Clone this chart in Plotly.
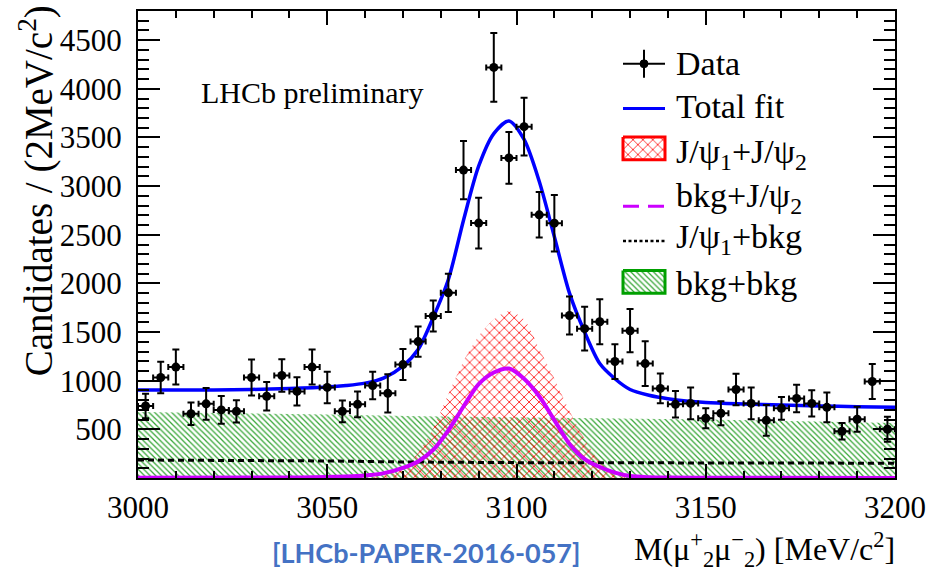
import plotly.graph_objects as go

# ---------------- data ----------------
bin_centers = [3002, 3006, 3010, 3014, 3018, 3022, 3026, 3030, 3034, 3038,
               3042, 3046, 3050, 3054, 3058, 3062, 3066, 3070, 3074, 3078,
               3082, 3086, 3090, 3094, 3098, 3102, 3106, 3110, 3114, 3118,
               3122, 3126, 3130, 3134, 3138, 3142, 3146, 3150, 3154, 3158,
               3162, 3166, 3170, 3174, 3178, 3182, 3186, 3190, 3194, 3198]
candidates = [740, 1033, 1140, 660, 762, 700, 685, 1033, 840, 1054,
              890, 1140, 931, 685, 757, 951, 870, 1166, 1402, 1665,
              1903, 3165, 2620, 4220, 3290, 3611, 2705, 2619, 1670, 1535,
              1606, 1197, 1514, 1176, 921, 757, 767, 614, 665, 910,
              767, 593, 716, 818, 767, 726, 481, 604, 992, 501]
cand_err = [125, 162, 180, 115, 162, 142, 115, 184, 147, 167,
            145, 180, 162, 111, 133, 142, 196, 159, 155, 160,
            196, 300, 260, 354, 266, 297, 234, 290, 196, 225,
            230, 179, 222, 230, 153, 136, 162, 102, 123, 162,
            162, 158, 116, 141, 136, 153, 85, 128, 179, 128]
bin_half_width = [2] * len(bin_centers)

fit_mass = [3000, 3010, 3020, 3030, 3040, 3050, 3055, 3060, 3065, 3070, 3074,
            3078, 3082, 3086, 3090, 3094, 3098, 3102, 3106, 3110, 3114, 3118,
            3122, 3126, 3130, 3135, 3140, 3150, 3160, 3170, 3180, 3190, 3200]
total_fit = [905, 905, 905, 910, 920, 935, 950, 975, 1030, 1150, 1320,
             1650, 2040, 2650, 3205, 3540, 3670, 3480, 3050, 2480, 1900, 1500,
             1176, 1020, 910, 850, 815, 775, 760, 750, 740, 733, 726]

bkg_psi2_mass = [3000, 3040, 3050, 3055, 3060, 3065, 3070, 3074, 3078, 3082, 3086,
                 3090, 3094, 3098, 3102, 3106, 3110, 3114, 3118, 3122, 3126,
                 3130, 3135, 3140, 3150, 3200]
bkg_psi2 = [2, 5, 10, 15, 25, 50, 105, 170, 290, 490, 735,
            965, 1085, 1125, 1020, 840, 595, 350, 195, 113, 55,
            20, 8, 4, 2, 0]

psi_psi_mass = [3060, 3065, 3070, 3074, 3078, 3082, 3086, 3090, 3094, 3098,
                3102, 3106, 3110, 3114, 3118, 3122, 3126, 3132]
psi_psi = [0, 25, 90, 260, 510, 860, 1200, 1460, 1630, 1715,
           1630, 1330, 1020, 690, 400, 165, 35, 0]

psi1_bkg_mass = [3000, 3030, 3050, 3070, 3100, 3150, 3200]
psi1_bkg = [185, 182, 175, 165, 158, 155, 152]

bkg_bkg_mass = [3000, 3025, 3050, 3075, 3100, 3125, 3150, 3175, 3200]
bkg_bkg = [678, 668, 652, 635, 625, 614, 602, 584, 565]

x_range = [3000, 3200]
y_range = [0, 4800]

legend_labels = ["Data", "Total fit", "J/ψ<sub>1</sub>+J/ψ<sub>2</sub>",
                 "bkg+J/ψ<sub>2</sub>", "J/ψ<sub>1</sub>+bkg", "bkg+bkg"]

# ---------------- styling / layout constants ----------------
W, H = 936, 574
L, R, T, B = 138, 41, 9, 96
PW, PH = W - L - R, H - T - B
SERIF = "Liberation Serif"
RED, GREEN, MAGENTA, BLUE = "#ff0000", "#00a000", "#cc00ff", "#0000ff"


def px2x(px):
    return (px - L) / PW


def py2y(py):
    return (H - B - py) / PH


fig = go.Figure()

# bkg+bkg (green hatched)
fig.add_trace(go.Scatter(
    x=bkg_bkg_mass, y=bkg_bkg, mode="lines", line=dict(width=0, color=GREEN),
    fill="tozeroy", fillcolor="rgba(0,0,0,0)",
    fillpattern=dict(shape="\\", fgcolor="#139613", bgcolor="rgba(0,0,0,0)",
                     size=4, solidity=0.32, fgopacity=0.85),
    showlegend=False, hoverinfo="skip"))

# J/psi1 + J/psi2 (red cross-hatched)
fig.add_trace(go.Scatter(
    x=psi_psi_mass, y=psi_psi, mode="lines", line=dict(width=0, color=RED, shape="spline", smoothing=0.8),
    fill="tozeroy", fillcolor="rgba(0,0,0,0)",
    fillpattern=dict(shape="x", fgcolor=RED, bgcolor="rgba(0,0,0,0)",
                     size=7, solidity=0.24, fgopacity=0.9),
    showlegend=False, hoverinfo="skip"))

# J/psi1 + bkg (black dashed)
fig.add_trace(go.Scatter(
    x=psi1_bkg_mass, y=psi1_bkg, mode="lines",
    line=dict(color="black", width=3, dash="6px,4px"),
    showlegend=False, hoverinfo="skip"))

# bkg + J/psi2 (magenta)
fig.add_trace(go.Scatter(
    x=bkg_psi2_mass, y=bkg_psi2, mode="lines",
    line=dict(color=MAGENTA, width=4, shape="spline", smoothing=0.8),
    showlegend=False, hoverinfo="skip"))

# total fit
fig.add_trace(go.Scatter(
    x=fit_mass, y=total_fit, mode="lines",
    line=dict(color=BLUE, width=3.5, shape="spline", smoothing=0.8),
    showlegend=False, hoverinfo="skip"))

# data
fig.add_trace(go.Scatter(
    x=bin_centers, y=candidates, mode="markers",
    marker=dict(color="black", size=9, symbol="circle"),
    error_y=dict(type="data", array=cand_err, color="black", thickness=2, width=3.5),
    error_x=dict(type="data", array=bin_half_width, color="black", thickness=2, width=3),
    showlegend=False, hoverinfo="skip"))

# ---------------- hand-made legend ----------------
gx0, gx1 = 623, 665
gxm = (gx0 + gx1) / 2
row_glyph_y = [62, 107, 147, 205, 240, 281]
row_text_y = [62, 105, 153, 197, 238, 283]
text_x = 674

shapes = []
# Data glyph
shapes.append(dict(type="line", xref="paper", yref="paper", x0=px2x(gx0), x1=px2x(gx1),
                   y0=py2y(row_glyph_y[0]), y1=py2y(row_glyph_y[0]),
                   line=dict(color="black", width=2)))
shapes.append(dict(type="line", xref="paper", yref="paper", x0=px2x(gxm), x1=px2x(gxm),
                   y0=py2y(row_glyph_y[0] - 14), y1=py2y(row_glyph_y[0] + 14),
                   line=dict(color="black", width=2)))
shapes.append(dict(type="circle", xref="paper", yref="paper",
                   x0=px2x(gxm - 4), x1=px2x(gxm + 4),
                   y0=py2y(row_glyph_y[0] - 4), y1=py2y(row_glyph_y[0] + 4),
                   fillcolor="black", line=dict(color="black", width=1)))
# Total fit
shapes.append(dict(type="line", xref="paper", yref="paper", x0=px2x(gx0), x1=px2x(gx1),
                   y0=py2y(row_glyph_y[1]), y1=py2y(row_glyph_y[1]),
                   line=dict(color=BLUE, width=3)))
# bkg+J/psi2 dashed magenta
shapes.append(dict(type="line", xref="paper", yref="paper", x0=px2x(gx0), x1=px2x(gx1),
                   y0=py2y(row_glyph_y[3]), y1=py2y(row_glyph_y[3]),
                   line=dict(color=MAGENTA, width=3, dash="16px,9px")))
# J/psi1+bkg dotted black
shapes.append(dict(type="line", xref="paper", yref="paper", x0=px2x(gx0), x1=px2x(gx1),
                   y0=py2y(row_glyph_y[4]), y1=py2y(row_glyph_y[4]),
                   line=dict(color="black", width=2.5, dash="3px,2.5px")))

# patterned boxes on an invisible overlay axis pair (0..1 = plot area)
for idx, col, pcol, shp, sz, sol in [(2, RED, RED, "x", 7, 0.24), (5, GREEN, "#139613", "\\", 4, 0.32)]:
    yc = row_glyph_y[idx]
    bx = [px2x(gx0), px2x(gx1), px2x(gx1), px2x(gx0), px2x(gx0)]
    by = [py2y(yc - 11.5), py2y(yc - 11.5), py2y(yc + 11.5), py2y(yc + 11.5), py2y(yc - 11.5)]
    fig.add_trace(go.Scatter(
        x=bx, y=by, xaxis="x2", yaxis="y2", mode="lines",
        line=dict(color=col, width=3), fill="toself", fillcolor="rgba(0,0,0,0)",
        fillpattern=dict(shape=shp, fgcolor=pcol, bgcolor="rgba(0,0,0,0)",
                         size=sz, solidity=sol, fgopacity=0.85),
        showlegend=False, hoverinfo="skip"))

annotations = []
for lab, ty in zip(legend_labels, row_text_y):
    annotations.append(dict(text=lab, xref="paper", yref="paper", x=px2x(text_x), y=py2y(ty),
                            xanchor="left", yanchor="middle", showarrow=False,
                            font=dict(family=SERIF, size=34, color="black")))

annotations.append(dict(text="LHCb preliminary", xref="paper", yref="paper",
                        x=px2x(199), y=py2y(91), xanchor="left", yanchor="middle",
                        showarrow=False, font=dict(family=SERIF, size=30, color="black")))
annotations.append(dict(text="Candidates / (2MeV/c<sup>2</sup>)", xref="paper", yref="paper",
                        x=px2x(36), y=py2y(190), xanchor="center", yanchor="middle",
                        textangle=-90, showarrow=False,
                        font=dict(family=SERIF, size=39, color="black")))
annotations.append(dict(text="M(μ<sup>+</sup><sub>2</sub>μ<sup>−</sup><sub>2</sub>) [MeV/c<sup>2</sup>]",
                        xref="paper", yref="paper", x=px2x(897), y=py2y(550),
                        xanchor="right", yanchor="middle", showarrow=False,
                        font=dict(family=SERIF, size=32, color="black")))
annotations.append(dict(text="<b>[LHCb-PAPER-2016-057]</b>", xref="paper", yref="paper",
                        x=px2x(426), y=py2y(553), xanchor="center", yanchor="middle",
                        showarrow=False, font=dict(family="Lato", size=27, color="#4472C4")))

axis_common = dict(showgrid=False, zeroline=False, showline=True, linecolor="black",
                   linewidth=2, mirror="allticks", ticks="inside", tickcolor="black",
                   tickwidth=2)

fig.update_layout(
    width=W, height=H, margin=dict(l=L, r=R, t=T, b=B),
    paper_bgcolor="white", plot_bgcolor="white",
    showlegend=False,
    shapes=shapes, annotations=annotations,
    xaxis=dict(range=x_range, tick0=3000, dtick=50, ticklen=14,
               minor=dict(dtick=10, ticklen=7, tickwidth=2, ticks="inside", tickcolor="black"),
               tickfont=dict(family=SERIF, size=31, color="black"),
               ticklabelstandoff=1, **axis_common),
    yaxis=dict(range=y_range, tick0=0, dtick=500, ticklen=22,
               tickvals=[500, 1000, 1500, 2000, 2500, 3000, 3500, 4000, 4500],
               minor=dict(dtick=100, ticklen=11, tickwidth=2, ticks="inside", tickcolor="black"),
               tickfont=dict(family=SERIF, size=31, color="black"),
               ticklabelstandoff=8, **axis_common),
    xaxis2=dict(overlaying="x", anchor="y2", range=[0, 1], visible=False, fixedrange=True),
    yaxis2=dict(overlaying="y", anchor="x2", range=[0, 1], visible=False, fixedrange=True),
)

fig.write_html("out.html")
